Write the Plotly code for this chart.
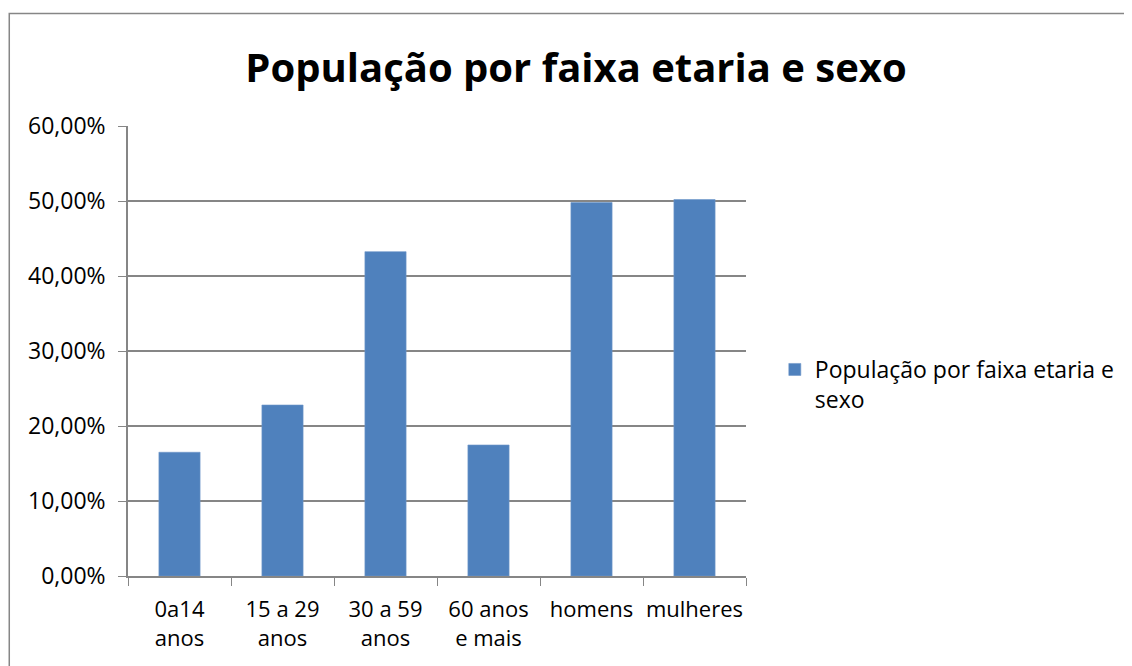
import plotly.graph_objects as go

# Data
categories = ["0a14 anos", "15 a 29 anos", "30 a 59 anos", "60 anos e mais", "homens", "mulheres"]
tick_labels = ["0a14<br>anos", "15 a 29<br>anos", "30 a 59<br>anos", "60 anos<br>e mais", "homens", "mulheres"]
values = [0.165, 0.228, 0.4325, 0.1747, 0.498, 0.502]
series_name = "População por faixa etaria e<br>sexo"
y_ticks = [0, 0.1, 0.2, 0.3, 0.4, 0.5, 0.6]

GRID = "#868686"
FONT = "Open Sans"

# page body has an 8px margin, so positions below are screen px minus 8
OFF = 8
W, H = 1132 - OFF, 666 - OFF
L, T = 128 - OFF, 126 - OFF
pw, ph = 622, 450
R, B = W - L - pw, H - T - ph


def px_x(p):
    return (p - OFF - L) / pw


def px_y(p):
    return (T + ph - (p - OFF)) / ph


trace = go.Bar(x=categories, y=values, name=series_name,
               marker=dict(color="#4F81BD", line=dict(color="#6F97C9", width=0.6)),
               showlegend=True)

fig = go.Figure(data=[trace])
fig.update_layout(
    width=W, height=H,
    margin=dict(l=L, r=R, t=T, b=B),
    paper_bgcolor="white", plot_bgcolor="white",
    separators=",.",
    font=dict(family=FONT, size=23, color="black"),
    title=dict(text="<b>População por faixa etaria e sexo</b>",
               x=(576 - OFF) / W, xanchor="center", y=1 - (68 - OFF) / H, yanchor="middle",
               font=dict(family=FONT, size=40, color="black")),
    bargap=0.6,
    legend=dict(x=px_x(779), xanchor="left", y=px_y(348), yanchor="top",
                valign="top", font=dict(size=23), itemwidth=30,
                bgcolor="rgba(0,0,0,0)"),
    shapes=[dict(type="rect", xref="paper", yref="paper",
                 x0=px_x(8.5), x1=px_x(1131.5), y0=px_y(700), y1=px_y(13.5),
                 line=dict(color=GRID, width=1.5))],
)
fig.update_xaxes(tickmode="array", tickvals=categories, ticktext=tick_labels,
                 tickangle=0, automargin=False, tickfont=dict(size=22),
                 tickson="boundaries", ticks="outside", ticklen=8, tickcolor=GRID,
                 showline=True, linecolor=GRID, linewidth=1.5,
                 showgrid=False, ticklabelstandoff=13)
fig.update_yaxes(range=[0, 0.6], tickvals=y_ticks, tickformat=".2%",
                 automargin=False,
                 ticks="outside", ticklen=8, tickcolor=GRID,
                 showline=True, linecolor=GRID, linewidth=1.5,
                 showgrid=True, gridcolor=GRID, gridwidth=1.5,
                 zeroline=False, ticklabelstandoff=8)

fig.write_html("out.html")
